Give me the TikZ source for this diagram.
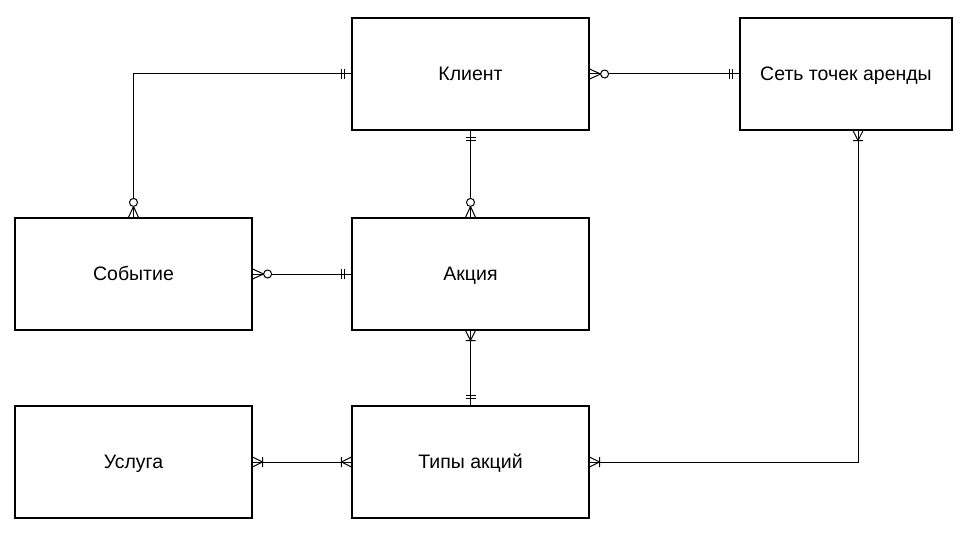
\documentclass[tikz,border=0pt]{standalone}
\usepackage{fontspec}
\setmainfont{Liberation Sans}
\begin{document}
\begin{tikzpicture}[x=1pt,y=-1pt,
  ent/.style={draw=black,line width=1.2pt,fill=white,minimum width=237pt,minimum height=112pt,inner sep=0pt,text height=13pt,text depth=0pt,font=\fontsize{19.5}{23}\selectfont},
  conn/.style={draw=black,line width=1pt},
  mone/.pic={\draw[line width=1pt] (7,-5)--(7,5) (10,-5)--(10,5);},
  onemany/.pic={\draw[line width=1pt] (0,-5)--(10,0)--(0,5) (10,-5)--(10,5);},
  zeromany/.pic={\draw[line width=1pt] (0,-5)--(11,0)--(0,5); \draw[line width=1pt,fill=white] (15,0) circle (4);}
]
\useasboundingbox[fill=white] (0,0) rectangle (969,535);
\node[ent] (k) at (470.5,74) {Клиент};
\node[ent,minimum width=212pt] (r) at (846,74) {Сеть точек аренды};
\node[ent] (s) at (133.5,274) {Событие};
\node[ent] (a) at (470.5,274) {Акция};
\node[ent] (u) at (133.5,462) {Услуга};
\node[ent] (t) at (470.5,462) {Типы акций};
\coordinate (rs) at ([xshift=12pt]r.south);
\draw[conn] (k.west) -| (s.north);
\draw[conn] (k.east) -- (r.west);
\draw[conn] (rs) |- (t.east);
\draw[conn] (k.south) -- (a.north);
\draw[conn] (s.east) -- (a.west);
\draw[conn] (a.south) -- (t.north);
\draw[conn] (u.east) -- (t.west);
\path (k.west) pic[rotate=180]{mone};
\path (s.north) pic[rotate=90]{zeromany};
\path (k.east) pic[rotate=0]{zeromany};
\path (r.west) pic[rotate=180]{mone};
\path (rs) pic[rotate=270]{onemany};
\path (t.east) pic[rotate=0]{onemany};
\path (k.south) pic[rotate=270]{mone};
\path (a.north) pic[rotate=90]{zeromany};
\path (s.east) pic[rotate=0]{zeromany};
\path (a.west) pic[rotate=180]{mone};
\path (a.south) pic[rotate=270]{onemany};
\path (t.north) pic[rotate=90]{mone};
\path (u.east) pic[rotate=0]{onemany};
\path (t.west) pic[rotate=180]{onemany};
\end{tikzpicture}
\end{document}
